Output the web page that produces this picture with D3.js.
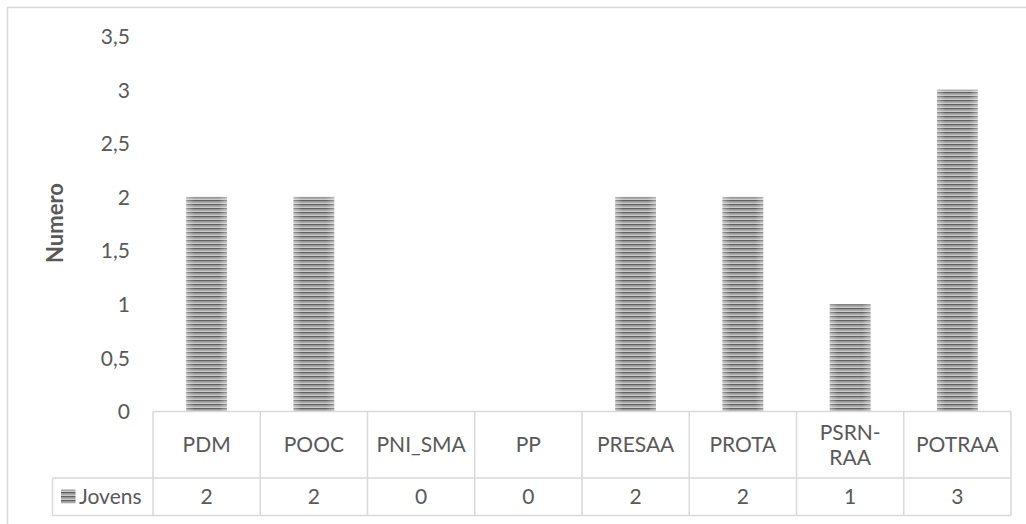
<!DOCTYPE html>
<html><head><meta charset="utf-8">
<script src="https://cdn.jsdelivr.net/npm/d3@7"></script>
<style>
html,body{margin:0;padding:0;background:#fff;}
svg text{font-family:Lato,"Open Sans",sans-serif;fill:#595959;}
</style></head>
<body>
<svg id="c" width="1026" height="524"></svg>
<script>
const categories = ["PDM","POOC","PNI_SMA","PP","PRESAA","PROTA","PSRN-RAA","POTRAA"];
const categoryLines = [["PDM"],["POOC"],["PNI_SMA"],["PP"],["PRESAA"],["PROTA"],["PSRN-","RAA"],["POTRAA"]];
const jovens = [2,2,0,0,2,2,1,3];
const yTicks = [0,0.5,1,1.5,2,2.5,3,3.5];
const seriesName = "Jovens";
const yTitle = "Numero";

const svg = d3.select("#c");
const fontSize = 21;
// frame
svg.append("rect").attr("x",7.5).attr("y",7.5).attr("width",1030).attr("height",530)
  .attr("fill","none").attr("stroke","#d9d9d9").attr("stroke-width",1.5);

// pattern
const defs = svg.append("defs");
const pat = defs.append("pattern").attr("id","stripes").attr("patternUnits","userSpaceOnUse")
  .attr("width",8).attr("height",4);
pat.append("rect").attr("width",8).attr("height",4).attr("fill","#cfcfcf");
pat.append("rect").attr("y",0).attr("width",8).attr("height",1.5).attr("fill","#616161");
pat.append("rect").attr("y",2.3).attr("width",8).attr("height",0.8).attr("fill","#9a9a9a");
const grad = defs.append("linearGradient").attr("id","shade").attr("x1","0").attr("x2","1").attr("y1","0").attr("y2","0");
grad.append("stop").attr("offset","0").attr("stop-color","#fff").attr("stop-opacity",0.35);
grad.append("stop").attr("offset","0.2").attr("stop-color","#fff").attr("stop-opacity",0);
grad.append("stop").attr("offset","0.8").attr("stop-color","#fff").attr("stop-opacity",0);
grad.append("stop").attr("offset","1").attr("stop-color","#fff").attr("stop-opacity",0.35);

const x0 = 153, x1 = 1011;
const x = d3.scaleBand().domain(categories).range([x0,x1]).paddingInner(0).paddingOuter(0);
const y = d3.scaleLinear().domain([0,3.5]).range([411.5,36]);

// y axis labels
const yAxis = d3.axisLeft(y).tickValues(yTicks).tickSize(0).tickPadding(0)
  .tickFormat(d => String(d).replace(".",","));
const ga = svg.append("g").attr("transform","translate(130,0)").call(yAxis);
ga.select(".domain").remove();
ga.selectAll("text").attr("font-size",fontSize).attr("font-family","Lato, 'Open Sans', sans-serif")
  .attr("fill","#595959").attr("dy","0.35em");

// y title
svg.append("text").attr("transform","translate(63,223) rotate(-90)")
  .attr("text-anchor","middle").attr("font-size",22).attr("font-weight","bold").text(yTitle);

// bars
const bw = x.bandwidth()*0.38;
const bars = svg.append("g");
bars.selectAll("rect.b").data(jovens).join("rect").attr("class","b")
  .attr("x",(d,i)=>x(categories[i])+x.bandwidth()/2-bw/2)
  .attr("y",d=>y(d)).attr("width",bw).attr("height",d=>y(0)-y(d))
  .attr("fill","url(#stripes)");
bars.selectAll("rect.s").data(jovens).join("rect").attr("class","s")
  .attr("x",(d,i)=>x(categories[i])+x.bandwidth()/2-bw/2)
  .attr("y",d=>y(d)).attr("width",bw).attr("height",d=>y(0)-y(d))
  .attr("fill","url(#shade)");

// data table
const tTop = y(0), tMid = 478, tBot = 515.5, legLeft = 52.5;
const lc = "#d9d9d9";
const tg = svg.append("g").attr("stroke",lc).attr("stroke-width",1.5).attr("fill","none");
tg.append("line").attr("x1",x0).attr("x2",x1).attr("y1",tTop).attr("y2",tTop);
tg.append("line").attr("x1",legLeft).attr("x2",x1).attr("y1",tMid).attr("y2",tMid);
tg.append("line").attr("x1",legLeft).attr("x2",x1).attr("y1",tBot).attr("y2",tBot);
tg.append("line").attr("x1",legLeft).attr("x2",legLeft).attr("y1",tMid).attr("y2",tBot);
const bounds = categories.map(c=>x(c)).concat([x1]);
tg.selectAll("line.v").data(bounds).join("line").attr("class","v")
  .attr("x1",d=>d).attr("x2",d=>d).attr("y1",tTop).attr("y2",tBot);

// category labels
const cg = svg.append("g");
categoryLines.forEach((lines,i)=>{
  const cx = x(categories[i]) + x.bandwidth()/2;
  const cy = (tTop+tMid)/2;
  const lh = 25;
  lines.forEach((ln,j)=>{
    cg.append("text").attr("x",cx).attr("y",cy + (j-(lines.length-1)/2)*lh)
      .attr("dy","0.35em").attr("text-anchor","middle").attr("font-size",fontSize).text(ln);
  });
});
// values
svg.append("g").selectAll("text").data(jovens).join("text")
  .attr("x",(d,i)=>x(categories[i])+x.bandwidth()/2).attr("y",(tMid+tBot)/2)
  .attr("dy","0.35em").attr("text-anchor","middle").attr("font-size",fontSize).text(d=>d);
// legend
svg.append("rect").attr("x",61).attr("y",489.5).attr("width",14.5).attr("height",14).attr("fill","url(#stripes)");
svg.append("text").attr("x",79).attr("y",(tMid+tBot)/2).attr("dy","0.35em").attr("font-size",fontSize).text(seriesName);
</script>
</body></html>
